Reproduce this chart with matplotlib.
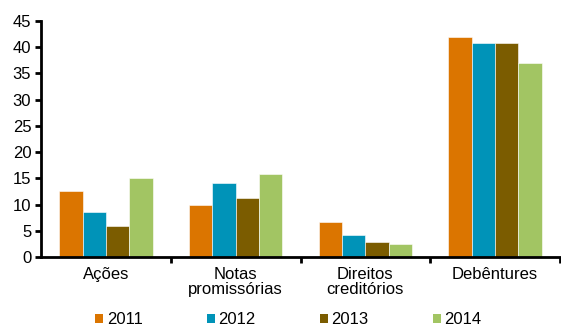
import numpy as np
import matplotlib.pyplot as plt
from matplotlib.patches import Patch

plt.rcParams['font.family'] = ['Liberation Sans', 'DejaVu Sans']

categorias = ["Ações", "Notas\npromissórias", "Direitos\ncreditórios", "Debêntures"]
anos = ["2011", "2012", "2013", "2014"]
valores = {
    "2011": [12.6, 10.0, 6.7, 42.0],
    "2012": [8.5, 14.2, 4.2, 40.8],
    "2013": [6.0, 11.2, 2.9, 40.8],
    "2014": [15.0, 15.8, 2.5, 37.0],
}
cores = ["#db7500", "#0093b8", "#7b5c00", "#a2c563"]

fig = plt.figure(figsize=(5.61, 3.27), dpi=100)
ax = fig.add_axes([41 / 561, 1 - 257 / 327, 519 / 561, 236 / 327])

x = np.arange(len(categorias))
largura = 0.18
for i, ano in enumerate(anos):
    ax.bar(x - 0.27 + i * largura, valores[ano], largura, color=cores[i],
           edgecolor="white", linewidth=0.4, label=ano)

ax.set_xlim(-0.5, 3.5)
ax.set_ylim(0, 45)
ax.set_yticks(range(0, 46, 5))
ax.tick_params(axis="y", direction="out", length=4, width=2, labelsize=12, pad=3)

# group labels centred, separators as minor ticks between groups
ax.set_xticks(x)
ax.set_xticklabels(categorias, fontsize=12, linespacing=1.05)
ax.tick_params(axis="x", which="major", length=0, pad=7)
ax.set_xticks([0.5, 1.5, 2.5, 3.5], minor=True)
ax.tick_params(axis="x", which="minor", direction="out", length=4, width=2)

for lado in ["top", "right"]:
    ax.spines[lado].set_visible(False)
ax.spines["left"].set_linewidth(2)
ax.spines["bottom"].set_linewidth(2)

handles = [Patch(facecolor=c, label=a) for a, c in zip(anos, cores)]
fig.legend(handles=handles, loc="center left", bbox_to_anchor=(95 / 561, 1 - 320 / 327), ncol=4,
           frameon=False, fontsize=12, handlelength=0.5, handleheight=0.5,
           handletextpad=0.2, columnspacing=3.85, borderpad=0, borderaxespad=0)

fig.savefig("out.png", dpi=100)
